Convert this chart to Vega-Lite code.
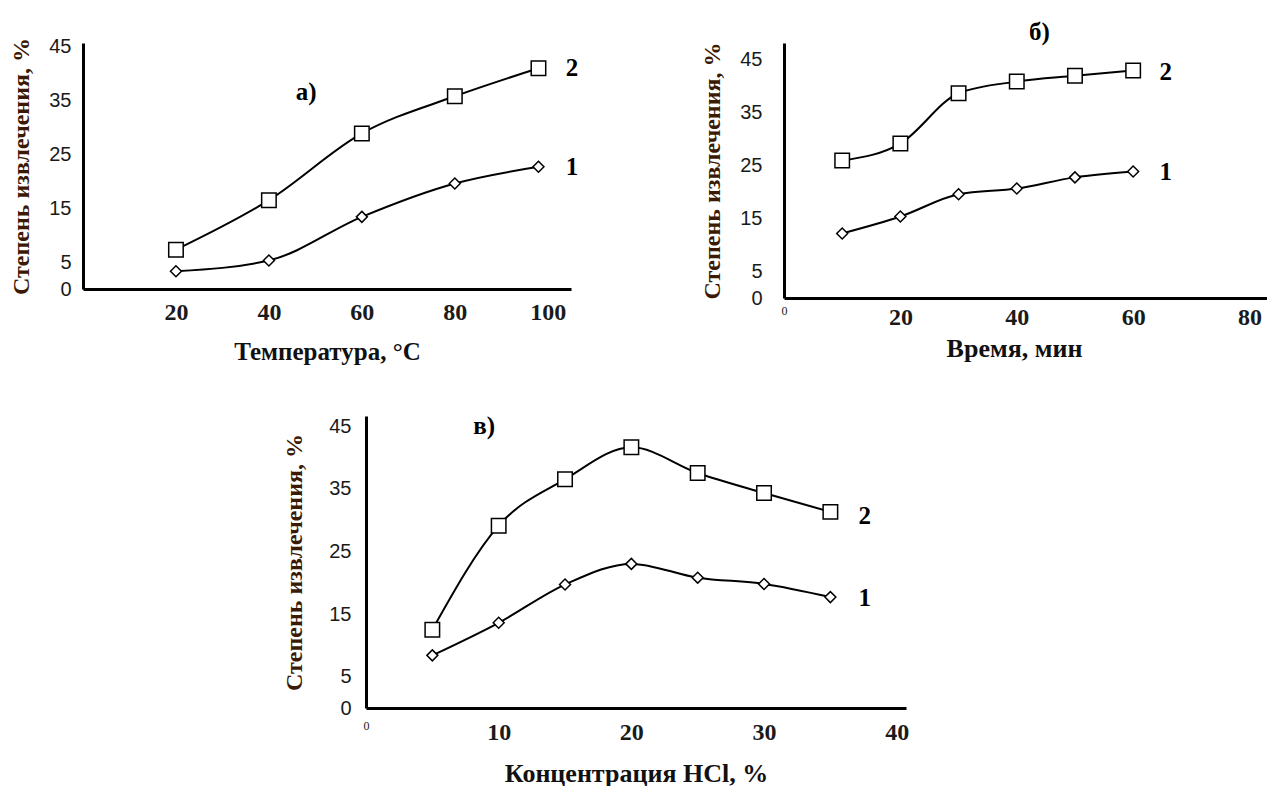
{
  "$schema": "https://vega.github.io/schema/vega-lite/v6.json",
  "background": "white",
  "padding": {"left": 8, "top": 20, "right": 0, "bottom": 0},
  "datasets": {
    "a": [
      {"x": 20, "y": 3.3, "s": "1"}, {"x": 40, "y": 5.3, "s": "1"}, {"x": 60, "y": 13.4, "s": "1"}, {"x": 80, "y": 19.6, "s": "1"}, {"x": 98, "y": 22.7, "s": "1"},
      {"x": 20, "y": 7.3, "s": "2"}, {"x": 40, "y": 16.5, "s": "2"}, {"x": 60, "y": 28.9, "s": "2"}, {"x": 80, "y": 35.8, "s": "2"}, {"x": 98, "y": 41, "s": "2"}
    ],
    "b": [
      {"x": 10, "y": 12.2, "s": "1"}, {"x": 20, "y": 15.4, "s": "1"}, {"x": 30, "y": 19.6, "s": "1"}, {"x": 40, "y": 20.7, "s": "1"}, {"x": 50, "y": 22.8, "s": "1"}, {"x": 60, "y": 23.9, "s": "1"},
      {"x": 10, "y": 26, "s": "2"}, {"x": 20, "y": 29.2, "s": "2"}, {"x": 30, "y": 38.7, "s": "2"}, {"x": 40, "y": 40.9, "s": "2"}, {"x": 50, "y": 42, "s": "2"}, {"x": 60, "y": 43, "s": "2"}
    ],
    "c": [
      {"x": 5, "y": 8.4, "s": "1"}, {"x": 10, "y": 13.6, "s": "1"}, {"x": 15, "y": 19.7, "s": "1"}, {"x": 20, "y": 23, "s": "1"}, {"x": 25, "y": 20.8, "s": "1"}, {"x": 30, "y": 19.8, "s": "1"}, {"x": 35, "y": 17.7, "s": "1"},
      {"x": 5, "y": 12.5, "s": "2"}, {"x": 10, "y": 29.1, "s": "2"}, {"x": 15, "y": 36.5, "s": "2"}, {"x": 20, "y": 41.6, "s": "2"}, {"x": 25, "y": 37.5, "s": "2"}, {"x": 30, "y": 34.3, "s": "2"}, {"x": 35, "y": 31.3, "s": "2"}
    ],
    "lbl": [
      {"p": "a", "x": 48, "y": 36.6, "t": "а)"},
      {"p": "a", "x": 105.2, "y": 41, "t": "2"},
      {"p": "a", "x": 105.2, "y": 22.7, "t": "1"},
      {"p": "b", "x": 43.9, "y": 50.2, "t": "б)"},
      {"p": "b", "x": 65.6, "y": 42.7, "t": "2"},
      {"p": "b", "x": 65.6, "y": 23.9, "t": "1"},
      {"p": "c", "x": 8.9, "y": 45, "t": "в)"},
      {"p": "c", "x": 37.6, "y": 30.6, "t": "2"},
      {"p": "c", "x": 37.6, "y": 17.6, "t": "1"}
    ]
  },
  "vconcat": [
    {
      "hconcat": [
        {
          "width": 488, "height": 246,
          "encoding": {
            "x": {"field": "x", "type": "quantitative", "scale": {"domain": [0, 105], "nice": false},
                  "axis": {"title": "Температура, °C", "values": [20, 40, 60, 80, 100], "labelPadding": 11, "minExtent": 35, "maxExtent": 35, "titlePadding": 27, "titleFontSize": 25}},
            "y": {"field": "y", "type": "quantitative", "scale": {"domain": [0, 45.7], "nice": false},
                  "axis": {"title": "Степень извлечения, %", "values": [0, 5, 15, 25, 35, 45], "labelPadding": 12, "minExtent": 34, "maxExtent": 34, "titlePadding": 28}}
          },
          "layer": [
            {"data": {"name": "a"}, "mark": {"type": "line", "color": "#000", "strokeWidth": 2, "interpolate": "monotone"}, "encoding": {"detail": {"field": "s"}}},
            {"data": {"name": "a"}, "mark": {"type": "point", "filled": true, "fill": "white", "stroke": "#000", "strokeWidth": 1.5, "opacity": 1},
             "encoding": {"shape": {"field": "s", "scale": {"domain": ["1", "2"], "range": ["diamond", "square"]}, "legend": null},
                          "size": {"field": "s", "scale": {"domain": ["1", "2"], "range": [120, 210]}, "legend": null}}},
            {"data": {"name": "lbl"}, "transform": [{"filter": "datum.p === 'a'"}], "mark": {"type": "text", "font": "Liberation Serif", "fontWeight": "bold", "fontSize": 25, "color": "#000", "align": "center", "baseline": "middle"}, "encoding": {"text": {"field": "t"}}}
          ]
        },
        {
          "width": 483, "height": 255,
          "encoding": {
            "x": {"field": "x", "type": "quantitative", "scale": {"domain": [0, 83], "nice": false},
                  "axis": {"title": "Время, мин", "values": [0, 20, 40, 60, 80], "labelPadding": 7, "minExtent": 30, "maxExtent": 30, "titlePadding": 20, "titleFontSize": 26, "titleX": 230,
                           "labelFontSize": {"condition": {"test": "datum.value === 0", "value": 12}, "value": 24},
                           "labelFontWeight": {"condition": {"test": "datum.value === 0", "value": "normal"}, "value": "bold"}}},
            "y": {"field": "y", "type": "quantitative", "scale": {"domain": [0, 48.2], "nice": false},
                  "axis": {"title": "Степень извлечения, %", "values": [0, 5, 15, 25, 35, 45], "labelPadding": 22, "minExtent": 44, "maxExtent": 44, "titlePadding": 28}}
          },
          "layer": [
            {"data": {"name": "b"}, "mark": {"type": "line", "color": "#000", "strokeWidth": 2, "interpolate": "monotone"}, "encoding": {"detail": {"field": "s"}}},
            {"data": {"name": "b"}, "mark": {"type": "point", "filled": true, "fill": "white", "stroke": "#000", "strokeWidth": 1.5, "opacity": 1},
             "encoding": {"shape": {"field": "s", "scale": {"domain": ["1", "2"], "range": ["diamond", "square"]}, "legend": null},
                          "size": {"field": "s", "scale": {"domain": ["1", "2"], "range": [120, 210]}, "legend": null}}},
            {"data": {"name": "lbl"}, "transform": [{"filter": "datum.p === 'b'"}], "mark": {"type": "text", "font": "Liberation Serif", "fontWeight": "bold", "fontSize": 25, "color": "#000", "align": "center", "baseline": "middle"}, "encoding": {"text": {"field": "t"}}}
          ]
        }
      ],
      "bounds": "flush",
      "spacing": 213
    },
    {
      "hconcat": [
        {
          "width": 50, "height": 10,
          "view": {"fill": "white", "stroke": null},
          "data": {"values": []},
          "mark": "point",
          "encoding": {}
        },
        {
          "width": 540, "height": 292,
          "encoding": {
            "x": {"field": "x", "type": "quantitative", "scale": {"domain": [0, 40.7], "nice": false},
                  "axis": {"title": "Концентрация HCl, %", "values": [0, 10, 20, 30, 40], "labelPadding": 12, "minExtent": 36, "maxExtent": 36, "titlePadding": 29, "titleFontSize": 26,
                           "labelFontSize": {"condition": {"test": "datum.value === 0", "value": 12}, "value": 24},
                           "labelFontWeight": {"condition": {"test": "datum.value === 0", "value": "normal"}, "value": "bold"}}},
            "y": {"field": "y", "type": "quantitative", "scale": {"domain": [0, 46.6], "nice": false},
                  "axis": {"title": "Степень извлечения, %", "values": [0, 5, 15, 25, 35, 45], "labelPadding": 15, "minExtent": 37, "maxExtent": 37, "titlePadding": 35}}
          },
          "layer": [
            {"data": {"name": "c"}, "mark": {"type": "line", "color": "#000", "strokeWidth": 2, "interpolate": "monotone"}, "encoding": {"detail": {"field": "s"}}},
            {"data": {"name": "c"}, "mark": {"type": "point", "filled": true, "fill": "white", "stroke": "#000", "strokeWidth": 1.5, "opacity": 1},
             "encoding": {"shape": {"field": "s", "scale": {"domain": ["1", "2"], "range": ["diamond", "square"]}, "legend": null},
                          "size": {"field": "s", "scale": {"domain": ["1", "2"], "range": [120, 210]}, "legend": null}}},
            {"data": {"name": "lbl"}, "transform": [{"filter": "datum.p === 'c'"}], "mark": {"type": "text", "font": "Liberation Serif", "fontWeight": "bold", "fontSize": 25, "color": "#000", "align": "center", "baseline": "middle"}, "encoding": {"text": {"field": "t"}}}
          ]
        }
      ],
      "bounds": "flush",
      "spacing": 233
    }
  ],
  "spacing": 50,
  "resolve": {"scale": {"shape": "independent", "size": "independent"}},
  "config": {
    "view": {"stroke": null},
    "axis": {
      "grid": false, "ticks": false, "domainColor": "#000", "domainWidth": 3,
      "labelColor": "#1a1a1a", "labelFlush": false, "labelOverlap": false,
      "titleFont": "Liberation Serif", "titleFontWeight": "bold", "titleColor": "#111", "titleBaseline": "middle"
    },
    "axisY": {"labelFont": "Liberation Sans", "labelFontSize": 20, "labelFontWeight": "normal", "titleColor": "#3b1a05", "titleFontSize": 24},
    "axisX": {"labelFont": "Liberation Serif", "labelFontWeight": "bold", "labelFontSize": 24, "titleFontSize": 25}
  }
}
